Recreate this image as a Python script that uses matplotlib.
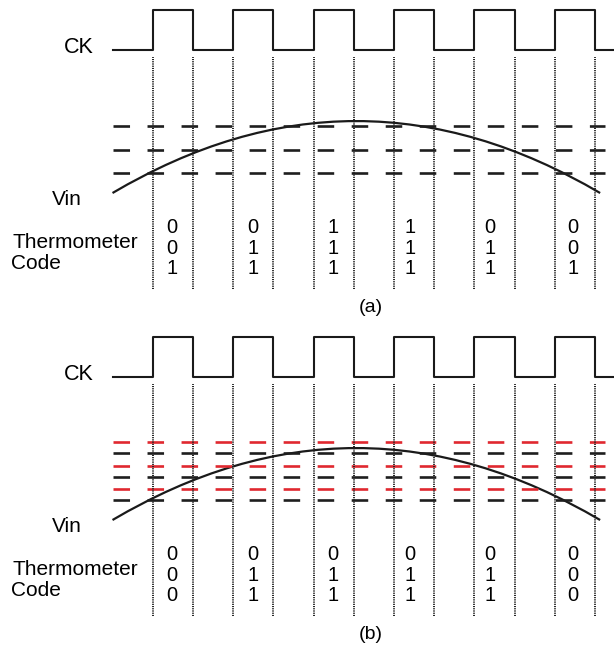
import matplotlib
matplotlib.use("Agg")
from matplotlib import pyplot as plt
from matplotlib.path import Path
from matplotlib.patches import PathPatch

plt.rcParams['font.family'] = ['Liberation Sans', 'DejaVu Sans']
plt.rcParams['lines.scale_dashes'] = False

# time axis in clock half-periods, voltage axis in comparator-step units
ck_edges = [1, 2, 3, 4, 5, 6, 7, 8, 9, 10, 11, 12]
ck_end = 12.5
ck_low = 6.25
ck_high = 7.95

# Vin: start, top and end of the input swing
vin_t = [0.0, 6.06, 12.13]
vin_level = [0.145, 3.22, 0.145]

# comparator thresholds
thr_black = [1.0, 2.0, 3.0]
thr_red = [1.46, 2.46, 3.46]
thr_end = 12.25

# sampled thermometer codes, one column per clock cycle
code_t = [1.48, 3.49, 5.48, 7.40, 9.39, 11.45]
code_a = [[0, 0, 1], [0, 1, 1], [1, 1, 1], [1, 1, 1], [0, 1, 1], [0, 0, 1]]
code_b = [[0, 0, 0], [0, 1, 1], [0, 1, 1], [0, 1, 1], [0, 1, 1], [0, 0, 0]]
code_rows = [-1.35, -2.22, -3.08]

dot_top = 5.96
dot_bottom = -3.95

RED = '#e0282f'
INK = '#1a1a1a'


def draw_panel(ax, codes, red_lines, label):
    ax.set_xlim(-2.799, 12.475)
    ax.set_ylim(-5.282, 8.393)
    ax.axis('off')

    # threshold dashes
    for lev in thr_black:
        ax.plot([0, thr_end], [lev, lev], color='#1e1e1e', lw=1.9,
                dashes=(11.9, 12.6))
    for lev in red_lines:
        ax.plot([0, thr_end], [lev, lev], color=RED, lw=1.9,
                dashes=(11.9, 12.6))

    # sampling instants
    for t in ck_edges:
        ax.plot([t, t], [dot_bottom, dot_top], color='#1e1e1e', lw=1.4,
                dashes=(0.8, 0.8))

    # clock
    xs = [0] + ck_edges + [ck_end]
    ys = [ck_low]
    for i in range(len(ck_edges)):
        ys.append(ck_high if i % 2 == 0 else ck_low)
    ys.append(ck_low)
    ax.step(xs, ys, where='post', color=INK, lw=1.5, clip_on=False)

    # Vin as a smooth parabola through the read points
    p0 = (vin_t[0], vin_level[0])
    p2 = (vin_t[2], vin_level[2])
    p1 = (2 * vin_t[1] - (p0[0] + p2[0]) / 2,
          2 * vin_level[1] - (p0[1] + p2[1]) / 2)
    path = Path([p0, p1, p2], [Path.MOVETO, Path.CURVE3, Path.CURVE3])
    ax.add_patch(PathPatch(path, fill=False, edgecolor=INK, lw=1.6))

    # labels
    ax.text(-0.48, 6.38, 'CK', ha='right', va='center', fontsize=15.5)
    ax.text(-1.13, -0.15, 'Vin', ha='center', va='center', fontsize=15)
    ax.text(-2.50, -1.95, 'Thermometer', ha='left', va='center', fontsize=15)
    ax.text(-2.52, -2.85, 'Code', ha='left', va='center', fontsize=15)

    for t, col in zip(code_t, codes):
        for y, bit in zip(code_rows, col):
            ax.text(t, y, str(bit), ha='center', va='center', fontsize=14.5)

    ax.text(6.43, -4.73, label, ha='center', va='center', fontsize=14)


fig = plt.figure(figsize=(6.14, 6.47), dpi=100)
ax_a = fig.add_axes([0, 327 / 647, 1, 320 / 647])
ax_b = fig.add_axes([0, 0, 1, 320 / 647])

draw_panel(ax_a, code_a, [], '(a)')
draw_panel(ax_b, code_b, thr_red, '(b)')

fig.savefig('out.png', dpi=100, facecolor='white')
